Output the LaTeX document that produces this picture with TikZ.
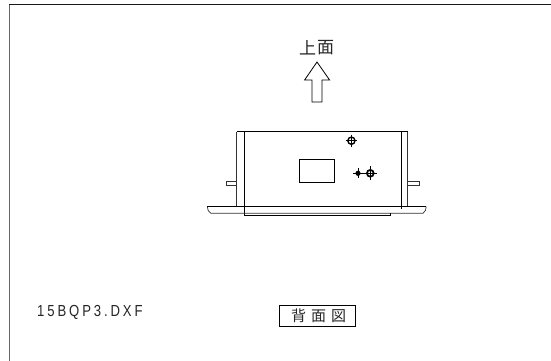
\documentclass[tikz,border=0pt]{standalone}
\usepackage{fontspec}
\setmainfont{Liberation Sans}
\newfontfamily\cjk{Noto Sans CJK JP}
\tikzset{
  ln/.style={line width=0.8pt,black},
  thinln/.style={line width=0.7pt,black!80},
  cjklbl/.style={inner sep=0pt,font=\cjk\fontsize{15}{15}\selectfont,text=black!85},
}
\begin{document}
\begin{tikzpicture}[x=1pt,y=-1pt]
\useasboundingbox[fill=white] (0,0) rectangle (551,361);
% frame
\draw[line width=1pt,black!60] (9.7,361) -- (9.7,4.2);
\draw[line width=1pt,black!90] (9.2,4.2) -- (551,4.2);
% labels
\node[cjklbl,font=\cjk\fontsize{17}{17}\selectfont] (topa) at (307.5,48) {上};
\node[cjklbl,font=\cjk\fontsize{17}{17}\selectfont] (topb) at (325.5,48) {面};
\node[anchor=west,inner sep=0pt,text=black!85,font=\fontsize{16}{16}\selectfont] (file) at (37,312) {\addfontfeature{FakeStretch=0.82,LetterSpace=18}15BQP3.DXF};
\node[draw=black,line width=0.9pt,minimum width=76.3pt,minimum height=21.7pt,inner sep=0pt] (name) at (317.5,315.8) {};
\node[cjklbl] (na) at (298.5,316) {背};
\node[cjklbl] (nb) at (318.5,316) {面};
\node[cjklbl] (nc) at (338.5,316) {図};
% arrow
\draw[ln,miter limit=10] (317,62) -- (304.6,80) -- (312,80) -- (312,102) -- (322,102) -- (322,80) -- (329.6,80) -- cycle;
% body
\draw[ln] (236.8,131.7) -- (407.6,131.7);
\draw[thinln] (236.8,131.7) -- (236.8,206.7);
\draw[ln] (244.2,131.7) -- (244.2,215.3);
\draw[ln] (401.3,131.7) -- (401.3,209);
\draw[thinln] (407.6,131.7) -- (407.6,206.7);
% tabs
\draw[thinln] (236.8,181) -- (226.6,181) -- (226.6,185.3) -- (236.8,185.3);
\draw[thinln] (407.6,181) -- (419.5,181) -- (419.5,185.3) -- (407.6,185.3);
% flange
\draw[ln] (207.3,206.7) -- (426.2,206.7);
\draw[thinln] (207.3,206.7) -- (208.2,210.5) -- (211,213.3) -- (423,213.3) -- (425.4,210.5) -- (426.2,206.7);
\draw[ln] (244.2,215.3) -- (390,215.3) -- (390,213.3);
% window
\draw[ln] (299.4,159) rectangle (334.5,182.7);
% holes
\begin{scope}[shift={(351.4,140.7)}]
\draw[line width=1.4pt] (0,0) circle (3.6);
\draw[line width=0.7pt] (-5.5,0) -- (5.5,0) (0,-6) -- (0,6);
\end{scope}
\begin{scope}[shift={(358,173.3)}]
\fill (0,0) circle (2.6);
\draw[line width=0.5pt] (-5,0) -- (5,0) (0,-5) -- (0,5);
\end{scope}
\begin{scope}[shift={(370.3,173.3)}]
\draw[line width=1.7pt] (0,0) circle (3.4);
\draw[line width=0.8pt] (-7,0) -- (7,0) (0,-7) -- (0,7);
\end{scope}
\end{tikzpicture}
\end{document}
